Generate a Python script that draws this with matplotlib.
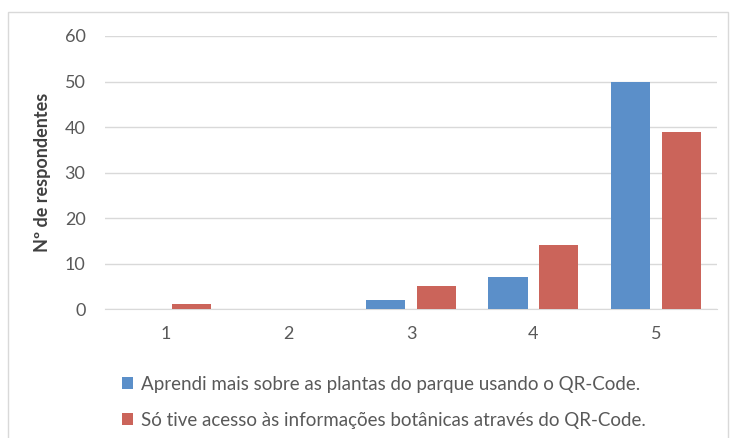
import matplotlib
matplotlib.use("Agg")
import matplotlib.pyplot as plt
from matplotlib.patches import Rectangle
import numpy as np

categories = ["1", "2", "3", "4", "5"]
aprendi = [0, 0, 2, 7, 50]
so_tive = [1, 0, 5, 14, 39]
series_labels = ["Aprendi mais sobre as plantas do parque usando o QR-Code.",
                 "Só tive acesso às informações botânicas através do QR-Code."]
yticks = [0, 10, 20, 30, 40, 50, 60]

blue = "#5B8FC9"
red = "#CB645A"
txt = "#595959"

plt.rcParams['font.family'] = ['Lato', 'DejaVu Sans']

W, H = 732, 438
fig = plt.figure(figsize=(W/100, H/100), dpi=100)
fig.patch.set_facecolor("white")
fig.patches.append(Rectangle((8/W, -0.05), (728-8)/W, 1 - 12/H + 0.05, transform=fig.transFigure,
                             fill=False, edgecolor="#D9D9D9", linewidth=1))

left, right = 105/W, 717/W
bottom, top = 1 - 309/H, 1 - 36/H
ax = fig.add_axes([left, bottom, right-left, top-bottom])

x = np.arange(1, len(categories)+1)
w = 0.32
off = 0.208
ax.bar(x - off, aprendi, w, color=blue, label=series_labels[0], zorder=3)
ax.bar(x + off, so_tive, w, color=red, label=series_labels[1], zorder=3)

ax.set_xlim(0.5, 5.5)
ax.set_ylim(0, 60)
ax.set_yticks(yticks)
ax.set_xticks(x)
ax.set_xticklabels(categories)
ax.yaxis.grid(True, color="#D9D9D9", linewidth=1, zorder=0)
ax.set_axisbelow(True)
for s in ["top", "right", "left"]:
    ax.spines[s].set_visible(False)
ax.spines["bottom"].set_color("#D9D9D9")
ax.tick_params(axis="both", length=0, labelsize=13, colors=txt)
ax.tick_params(axis="y", pad=14)
ax.tick_params(axis="x", pad=12)
ax.set_ylabel("Nº de respondentes", fontsize=13, fontweight="bold", color="#404040", labelpad=10)

leg = fig.legend(loc="upper left", bbox_to_anchor=(105/W, 1 - 359/H), ncol=1, frameon=False,
                 fontsize=13.5, handlelength=0.6, handleheight=0.6, handletextpad=0.4,
                 labelspacing=1.0, labelcolor=txt)

fig.savefig("out.png", dpi=100, facecolor="white")
